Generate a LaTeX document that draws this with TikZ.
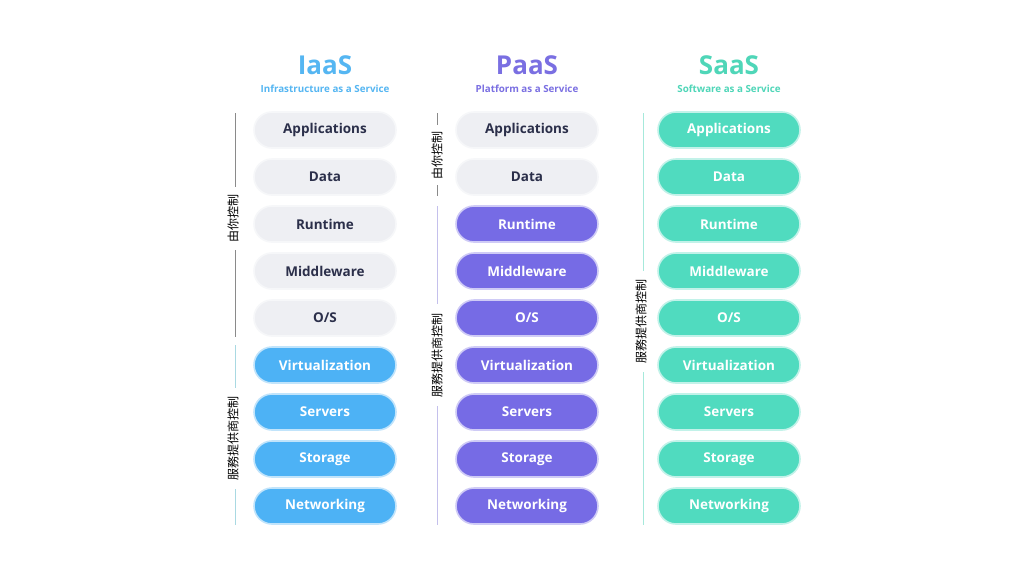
\documentclass[tikz,border=0pt]{standalone}
\usepackage{fontspec}
\setmainfont{Open Sans}
\newfontfamily\cjk{Noto Sans CJK TC}
\definecolor{iaas}{HTML}{4DB2F5}
\definecolor{paas}{HTML}{766BE5}
\definecolor{saas}{HTML}{50DBBF}
\definecolor{iaash}{HTML}{55B6F2}
\definecolor{paash}{HTML}{7A6FE2}
\definecolor{saash}{HTML}{4FD6B8}
\definecolor{pillgray}{HTML}{EEEFF3}
\definecolor{darktext}{HTML}{2B2F4A}
\definecolor{ownline}{HTML}{8A8A8A}
\definecolor{iaasl}{HTML}{A9D9E2}
\definecolor{paasl}{HTML}{C4C0EC}
\definecolor{saasl}{HTML}{A6E9DB}
\tikzset{
  pill/.style={rounded corners=18pt, minimum width=142pt, minimum height=36pt, inner sep=0pt,
    line width=1.6pt, font=\bfseries\fontsize{13.5}{13.5}\selectfont},
  greypill/.style={pill, fill=pillgray, draw=pillgray!50!white, text=darktext},
  ipill/.style={pill, fill=iaas, draw=iaas!35!white, text=white},
  ppill/.style={pill, fill=paas, draw=paas!35!white, text=white},
  spill/.style={pill, fill=saas, draw=saas!35!white, text=white},
  title/.style={font=\bfseries\fontsize{26}{26}\selectfont},
  subtitle/.style={font=\bfseries\fontsize{9.8}{9.8}\selectfont},
  sidelabel/.style={rotate=90, font=\cjk\fontsize{12}{12}\selectfont, text=black, inner sep=0pt},
  bracket/.style={line width=0.8pt}
}
\begin{document}
\begin{tikzpicture}[x=1pt, y=-1pt]
\useasboundingbox (0,0) rectangle (1024,576);
\fill[white] (0,0) rectangle (1024,576);
% headers
\node[title, text=iaash] (ih) at (325,65) {IaaS};
\node[subtitle, text=iaash] (ihs) at (325,89) {Infrastructure as a Service};
\node[title, text=paash] (ph) at (527,65) {PaaS};
\node[subtitle, text=paash] (phs) at (527,89) {Platform as a Service};
\node[title, text=saash] (sh) at (729,65) {SaaS};
\node[subtitle, text=saash] (shs) at (729,89) {Software as a Service};
% pills
\foreach \t [count=\i] in {Applications,Data,Runtime,Middleware,O/S,Virtualization,Servers,Storage,Networking}{
  \pgfmathsetmacro{\yy}{130+47*(\i-1)}
  \ifnum\i<6 \def\ist{greypill}\else\def\ist{ipill}\fi
  \ifnum\i<3 \def\pst{greypill}\else\def\pst{ppill}\fi
  \node[\ist] (i\i) at (325,\yy) {\t};
  \node[\pst] (p\i) at (527,\yy) {\t};
  \node[spill] (s\i) at (729,\yy) {\t};
}
% IaaS side
\node[sidelabel] (il1) at (233,218) {由你控制};
\draw[bracket, ownline] (235,113) -- (235,187);
\draw[bracket, ownline] (235,250) -- (235,337);
\node[sidelabel] (il2) at (233,438) {服務提供商控制};
\draw[bracket, iaasl] (235,345) -- (235,388);
\draw[bracket, iaasl] (235,489) -- (235,525);
% PaaS side
\node[sidelabel] (pl1) at (437,155) {由你控制};
\draw[bracket, ownline] (437,113) -- (437,125);
\draw[bracket, ownline] (437,185) -- (437,196);
\node[sidelabel] (pl2) at (437,355) {服務提供商控制};
\draw[bracket, paasl] (437,206) -- (437,304);
\draw[bracket, paasl] (437,406) -- (437,525);
% SaaS side
\node[sidelabel] (sl) at (641,321) {服務提供商控制};
\draw[bracket, saasl] (643,113) -- (643,271);
\draw[bracket, saasl] (643,372) -- (643,525);
\end{tikzpicture}
\end{document}
